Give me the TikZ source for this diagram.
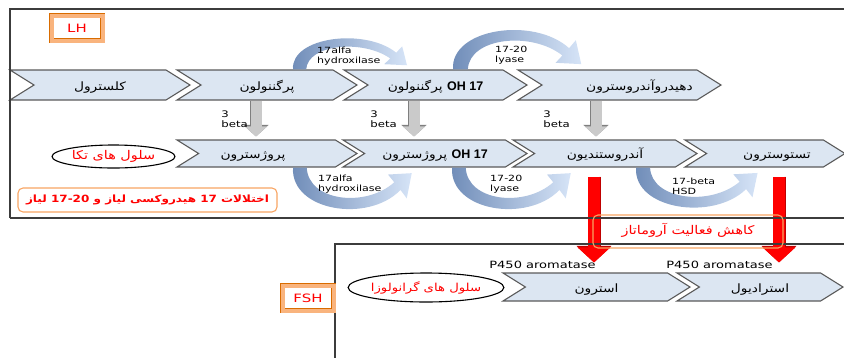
\documentclass[tikz,border=0pt]{standalone}
\usepackage{fontspec}
\setmainfont{DejaVu Sans}[FakeStretch=1.3]
\newfontfamily\fa[Script=Arabic,FakeStretch=1.2]{DejaVu Sans}
\newfontfamily\arialb{Liberation Sans}
\TeXXeTstate=1
\usetikzlibrary{shapes.symbols,shapes.geometric,arrows.meta,calc}
\definecolor{chevfill}{HTML}{DCE6F2}
\definecolor{chevline}{HTML}{5A5A5A}
\definecolor{arcdark}{HTML}{6F8CB8}
\definecolor{arclight}{HTML}{D6E4F7}
\definecolor{shaftgray}{HTML}{CACACA}
\definecolor{edgegray}{HTML}{7F7F7F}
\definecolor{boxorange}{HTML}{F8A462}
\definecolor{lhorange}{HTML}{F9B47E}
\definecolor{framegray}{HTML}{3C3C3C}
\newcommand{\fatxt}[1]{{\fa\beginR #1\endR}}
\newcommand{\ohtxt}{{\arialb\bfseries\fontsize{12.5}{13}\selectfont 17 OH}}
\newcommand{\enzarc}[3]{%
  \begin{scope}[shift={(#1)}, xscale=#2, yscale=#3]
    \shade[left color=arcdark, right color=arclight]
      (0,0) .. controls (-2,31) and (60,40) .. (86,16)
      -- (91,22) -- (95,4) -- (76,5) -- (81,10.5)
      .. controls (58,29) and (12,24) .. (11,0) -- cycle;
  \end{scope}}
\tikzset{
  chev/.style={signal, signal from=west, signal to=east, signal pointer angle=64,
    draw=chevline, line width=1.1pt, fill=chevfill, inner sep=0pt,
    text height=10pt, text depth=0pt,
    minimum height=30pt, font=\fa\fontsize{11.5}{13}\selectfont},
  chevb/.style={chev, minimum height=27pt},
  frame/.style={draw=framegray, line width=1.4pt},
  grayarr/.style={draw=shaftgray, line width=11pt, -{Triangle[width=22pt,length=10pt]},
    preaction={draw=edgegray, line width=12.4pt, -{Triangle[width=24.5pt,length=11.5pt]}}},
  redarr/.style={draw=red, line width=12pt, -{Triangle[width=32pt,length=15pt]},
    preaction={draw=red!75!black, line width=13pt, -{Triangle[width=34pt,length=16.5pt]}}},
  betalbl/.style={font=\fontsize{9}{10}\selectfont, align=left, inner sep=0pt},
  enz/.style={font=\fontsize{8.5}{10}\selectfont, align=left, inner sep=0pt},
  p450/.style={font=\fontsize{10}{11}\selectfont, inner sep=0pt},
  cell/.style={ellipse, draw=black, line width=1.1pt, inner sep=0pt, text=red,
    font=\fa\fontsize{12}{14}\selectfont},
  warnbox/.style={draw=boxorange, line width=1.1pt, rounded corners=5pt, inner sep=0pt,
    text=red, font=\fa\fontsize{12}{14}\selectfont},
  hormone/.style={draw=orange!85!black, double=lhorange, line width=0.5pt,
    double distance=4pt, fill=white, minimum width=51pt, minimum height=25pt,
    text=red, font=\fontsize{11.5}{13}\selectfont}
}
\begin{document}
\begin{tikzpicture}[x=1pt,y=-1pt]
\useasboundingbox (0,0) rectangle (844,357);

\node[chev, minimum width=180pt] (c1) at (100,85) {\fatxt{کلسترول}};
\node[chev, minimum width=180pt] (c2) at (267,85) {\fatxt{پرگننولون}};
\node[chev, minimum width=183pt] (c3) at (435.5,85) {\fatxt{\ohtxt{} پرگننولون}};
\node[chev, minimum width=203pt] (c4) at (619.5,85) {\hspace*{40pt}\fatxt{دهیدروآندروسترون}};

\node[chevb, minimum width=180pt] (b1) at (267,153.5) {\fatxt{پروژسترون}\hspace*{28pt}};
\node[chevb, minimum width=184pt] (b2) at (435,153.5) {\fatxt{\ohtxt{} پروژسترون}};
\node[chevb, minimum width=184pt] (b3) at (605,153.5) {\fatxt{آندروستندیون}};
\node[chevb, minimum width=160pt] (b4) at (765,153.5) {\hspace*{24pt}\fatxt{تستوسترون}};

\node[chevb, minimum height=28pt, minimum width=187pt] (l1) at (596.5,287) {\fatxt{استرون}};
\node[chevb, minimum height=28pt, minimum width=166pt] (l2) at (760,287) {\fatxt{استرادیول}};

\coordinate (r1) at ($(b3.south)+(-11,9)$);
\coordinate (r2) at ($(b4.south)+(14,9)$);
\draw[redarr] (r1) -- ($(r1 |- l1.north)+(0,-10)$);
\draw[redarr] (r2) -- ($(r2 |- l2.north)+(0,-10)$);

\draw[frame] (10,218) -- (10,9) -- (846,9);
\draw[frame] (10,218) -- (846,218);
\draw[frame] (335,359) -- (335,244) -- (846,244);

\node[hormone] (lh) at (77,28) {LH};
\node[hormone] (fsh) at (308,298) {FSH};

\node[cell, minimum width=123pt, minimum height=23pt] (theca) at (113.5,156.5) {\fatxt{سلول های تکا}};
\node[cell, minimum width=152pt, minimum height=29pt, font=\fa\fontsize{11}{13}\selectfont] (granul) at (426,287.5) {\fatxt{سلول های گرانولوزا}};
\node[warnbox, minimum width=259pt, minimum height=24pt, font=\fa\fontsize{10}{12}\selectfont] (disorder) at (147.5,200) {\fatxt{\bfseries اختلالات 17 هیدروکسی لیاز و 17-20 لیاز}};
\node[warnbox, minimum width=190pt, minimum height=33pt] (aromat) at (688,231.5) {\raisebox{6pt}{\fatxt{کاهش فعالیت آروماتاز}}};

\coordinate (g1) at ($(c2.south)+(-11,0)$);
\coordinate (g2) at ($(c3.south)+(-21.5,0)$);
\coordinate (g3) at ($(c4.south)+(-23.5,0)$);
\draw[grayarr] (g1) -- ($(g1 |- b1.north)+(0,-3)$);
\draw[grayarr] (g2) -- ($(g2 |- b2.north)+(0,-3)$);
\draw[grayarr] (g3) -- ($(g3 |- b3.north)+(0,-3)$);
\node[betalbl, anchor=east] (bl1) at ($(g1)+(-8,19)$) {3\\beta};
\node[betalbl, anchor=east] (bl2) at ($(g2)+(-17,19)$) {3\\beta};
\node[betalbl, anchor=east] (bl3) at ($(g3)+(-26,19)$) {3\\beta};

\coordinate (e1) at ($(c2.north)+(26,0)$);
\coordinate (e2) at ($(c3.north)+(17.5,0)$);
\coordinate (f1) at ($(b1.south)+(26,0)$);
\coordinate (f2) at ($(b2.south)+(17,0)$);
\coordinate (f3) at ($(b3.south)+(31,0)$);
\enzarc{e1}{1.2}{-1.05}
\enzarc{e2}{1.35}{-1.33}
\enzarc{f1}{1.25}{1.4}
\enzarc{f2}{1.25}{1.4}
\enzarc{f3}{1.28}{1.35}
\node[enz, anchor=north west] (n1) at ($(e1)+(24,-23)$) {17alfa\\hydroxilase};
\node[enz, anchor=north west] (n2) at ($(e2)+(42,-23)$) {17-20\\lyase};
\node[enz, anchor=north west] (m1) at ($(f1)+(25,7)$) {17alfa\\hydroxilase};
\node[enz, anchor=north west] (m2) at ($(f2)+(38,7)$) {17-20\\lyase};
\node[enz, anchor=north west] (m3) at ($(f3)+(36,10)$) {17-beta\\HSD};

\node[p450] (p1) at ($(l1.north)+(-54,-8)$) {P450 aromatase};
\node[p450] (p2) at ($(l2.north)+(-40.5,-8)$) {P450 aromatase};
\end{tikzpicture}
\end{document}
